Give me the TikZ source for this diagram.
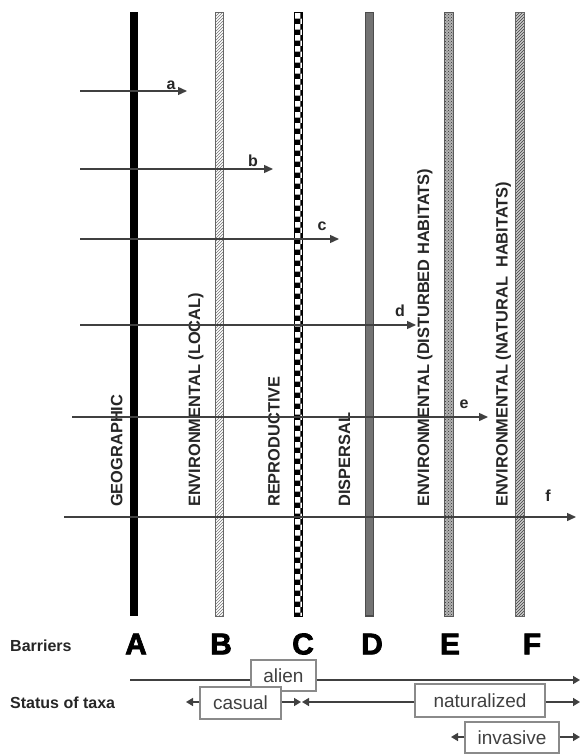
\documentclass[tikz,border=0pt]{standalone}
\usepackage{fontspec}
\setmainfont{Liberation Sans}
\newfontfamily\heavyfont[FakeBold=2.5]{Liberation Sans Bold}
\usetikzlibrary{arrows.meta,patterns}

\definecolor{ink}{HTML}{404040}
\definecolor{boxline}{HTML}{8A8A8A}

\begin{document}
\begin{tikzpicture}[x=1pt,y=-1pt,
  barlabel/.style={font=\fontsize{16.4}{16}\selectfont\bfseries, rotate=90,
    anchor=base west, inner sep=0pt, text=black!85},
  letter/.style={font=\fontsize{30}{30}\heavyfont, inner sep=0pt},
  rowhead/.style={font=\fontsize{16}{16}\selectfont\bfseries, anchor=west,
    inner sep=0pt, text=black!85},
  pathlabel/.style={font=\fontsize{16}{16}\selectfont\bfseries, inner sep=0pt,
    text=black!85},
  route/.style={draw=ink, line width=1.4pt,
    -{Triangle[length=9pt,width=8pt]}},
  statusbox/.style={draw=boxline, line width=1.3pt, fill=white,
    font=\fontsize{19}{19}\selectfont, text=ink, inner sep=0pt},
  span/.style={draw=ink, line width=1.5pt},
  spantip/.style={span, -{Triangle[length=7pt,width=8pt]}},
]
\useasboundingbox (0,0) rectangle (581,754);
\fill[white] (0,0) rectangle (581,754);

% ---- barrier bars A--F
\fill[black] (129.5,12.5) rectangle (137.5,616);
\draw[draw=black!60, line width=0.8pt, pattern=north east lines,
  pattern color=black!55] (215,12.5) rectangle (223,616);
\draw[draw=black, line width=0.8pt, pattern=checkerboard,
  pattern color=black] (294,12.5) rectangle (302.5,616);
\draw[draw=black!70, line width=1.2pt, fill=black!55] (365.5,12.5) rectangle (373.5,616);
\fill[black!30] (444.5,12.5) rectangle (453.5,616);
\draw[draw=black!65, line width=0.8pt, pattern=crosshatch dots,
  pattern color=black!80] (444.5,12.5) rectangle (453.5,616);
\fill[black!20] (515,12.5) rectangle (524,616);
\draw[draw=black!60, line width=0.8pt, pattern=north east lines,
  pattern color=black!75] (515,12.5) rectangle (524,616);

% ---- barrier names
\node[barlabel] (nA) at (122.3,507) {GEOGRAPHIC};
\node[barlabel] (nB) at (200,507) {ENVIRONMENTAL (LOCAL)};
\node[barlabel] (nC) at (279.5,507) {REPRODUCTIVE};
\node[barlabel] (nD) at (350,507) {DISPERSAL};
\node[barlabel] (nE) at (429,507) {ENVIRONMENTAL (DISTURBED HABITATS)};
\node[barlabel] (nF) at (507.5,507) {ENVIRONMENTAL (NATURAL\ \ HABITATS)};

% ---- introduction routes a--f
\coordinate (a0) at (80,91);   \coordinate (a1) at (187,91);
\coordinate (b0) at (80,169);  \coordinate (b1) at (273,169);
\coordinate (c0) at (80,239);  \coordinate (c1) at (339,239);
\coordinate (d0) at (80,325);  \coordinate (d1) at (416,325);
\coordinate (e0) at (72,417);  \coordinate (e1) at (488,417);
\coordinate (f0) at (64,517);  \coordinate (f1) at (576,517);
\draw[route] (a0) -- (a1);
\draw[route] (b0) -- (b1);
\draw[route] (c0) -- (c1);
\draw[route] (d0) -- (d1);
\draw[route] (e0) -- (e1);
\draw[route] (f0) -- (f1);
\node[pathlabel] (la) at (171,85) {a};
\node[pathlabel] (lb) at (253,161) {b};
\node[pathlabel] (lc) at (322,226) {c};
\node[pathlabel] (ld) at (400,311) {d};
\node[pathlabel] (le) at (464,404) {e};
\node[pathlabel] (lf) at (548,496) {f};

% ---- barrier letters
\node[rowhead] (barriers) at (10,646) {Barriers};
\node[letter] (A) at (136,644) {A};
\node[letter] (B) at (221,644) {B};
\node[letter] (C) at (303,644) {C};
\node[letter] (D) at (372,644) {D};
\node[letter] (E) at (450,644) {E};
\node[letter] (F) at (532,644) {F};

% ---- status of taxa
\node[rowhead] (status) at (10,703) {Status of taxa};
\node[statusbox, minimum width=65, minimum height=31] (alien) at (283.5,675.5) {alien};
\node[statusbox, minimum width=81, minimum height=32] (casual) at (240.5,703) {casual};
\node[statusbox, minimum width=130, minimum height=33] (natur) at (480,700.5) {naturalized};
\node[statusbox, minimum width=94, minimum height=31] (invas) at (512,737.5) {invasive};

\coordinate (alL) at (130,680);  \coordinate (alR) at (580,680);
\coordinate (caL) at (186,702);  \coordinate (caR) at (301,702);
\coordinate (naL) at (302,702);  \coordinate (naR) at (580,702);
\coordinate (inL) at (451,737);  \coordinate (inR) at (580,737);

\draw[span] (alL) -- (alL -| alien.west);
\draw[spantip] (alL -| alien.east) -- (alR);
\draw[spantip] (caL -| casual.west) -- (caL);
\draw[spantip] (caR -| casual.east) -- (caR);
\draw[spantip] (naL -| natur.west) -- (naL);
\draw[spantip] (naR -| natur.east) -- (naR);
\draw[spantip] (inL -| invas.west) -- (inL);
\draw[spantip] (inR -| invas.east) -- (inR);
\end{tikzpicture}
\end{document}
